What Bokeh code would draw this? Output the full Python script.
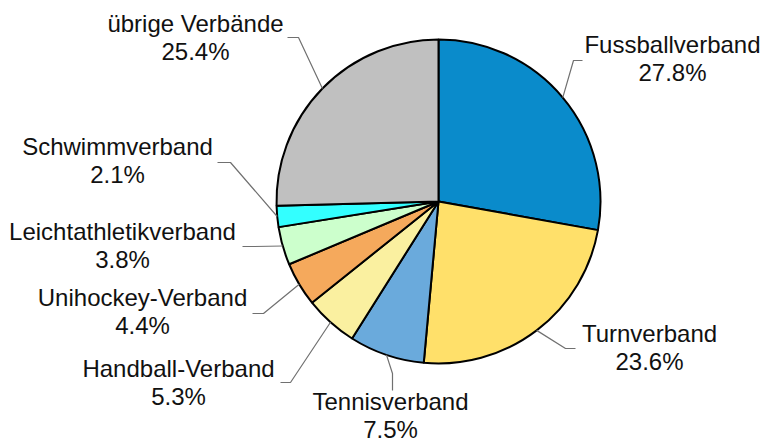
import math
from bokeh.plotting import figure
from bokeh.models import Range1d, ColumnDataSource
from bokeh.core.properties import value
from bokeh.embed import file_html
from bokeh.resources import INLINE

# ---- data ----
categories = ["Fussballverband", "Turnverband", "Tennisverband", "Handball-Verband",
              "Unihockey-Verband", "Leichtathletikverband", "Schwimmverband", "übrige Verbände"]
shares = [27.8, 23.6, 7.5, 5.3, 4.4, 3.8, 2.1, 25.4]
pct_labels = ["27.8%", "23.6%", "7.5%", "5.3%", "4.4%", "3.8%", "2.1%", "25.4%"]
colors = ["#0A8BCB", "#FFE06A", "#6AAADC", "#FAF0A0", "#F5A95C", "#CCFFCC", "#33FFFF", "#C0C0C0"]

# ---- layout (pixels from the picture's top-left corner) ----
W, H = 765, 441
CX, CY, R = 438, 201, 162
label_x = [672, 649, 390, 178, 142, 122, 117, 195]
label_base = [53, 342, 410, 377, 306, 240, 155, 32]
TEXT_SHIFT = -9
LINE_GAP = 28
elbow = [(573, 60), (565, 348), (392, 373), (290, 382), (263, 313), (254, 246), (230, 162), (298, 37)]
tail = [(582, 60), (575, 348), (392, 390), (280, 382), (252, 313), (242, 246), (217, 162), (287, 37)]

def sy(y):
    return H - y

p = figure(width=W, height=H, output_backend="svg", toolbar_location=None,
           x_range=Range1d(0, W), y_range=Range1d(0, H),
           x_axis_location=None, y_axis_location=None, min_border=0)
p.grid.visible = False
p.outline_line_color = None
p.background_fill_color = "white"

total = sum(shares)
starts, ends, mids = [], [], []
cum = 0.0
for s in shares:
    f0 = cum / total
    cum += s
    f1 = cum / total
    starts.append(math.pi / 2 - 2 * math.pi * f0)
    ends.append(math.pi / 2 - 2 * math.pi * f1)
    mids.append(math.pi / 2 - 2 * math.pi * (f0 + f1) / 2)

src = ColumnDataSource(dict(start=starts, end=ends, color=colors,
                            x=[CX] * len(shares), y=[sy(CY)] * len(shares)))
p.wedge(x="x", y="y", radius=R, start_angle="start", end_angle="end", direction="clock",
        fill_color="color", line_color="black", line_width=2, source=src)

# leader lines
xs, ys = [], []
for i, a in enumerate(mids):
    x0 = CX + R * math.cos(a)
    y0 = sy(CY) + R * math.sin(a)
    xs.append([x0, elbow[i][0], tail[i][0]])
    ys.append([y0, sy(elbow[i][1]), sy(tail[i][1])])
p.multi_line(xs=xs, ys=ys, line_color="#707070", line_width=1.2)

font = value("Liberation Sans")
p.text(x=label_x, y=[sy(b + TEXT_SHIFT) for b in label_base], text=categories,
       text_font=font, text_font_size="24px", text_align="center",
       text_baseline="alphabetic", text_color="#111111")
p.text(x=label_x, y=[sy(b + TEXT_SHIFT + LINE_GAP) for b in label_base], text=pct_labels,
       text_font=font, text_font_size="24px", text_align="center",
       text_baseline="alphabetic", text_color="#111111")

open("out.html", "w").write(file_html(p, INLINE))
